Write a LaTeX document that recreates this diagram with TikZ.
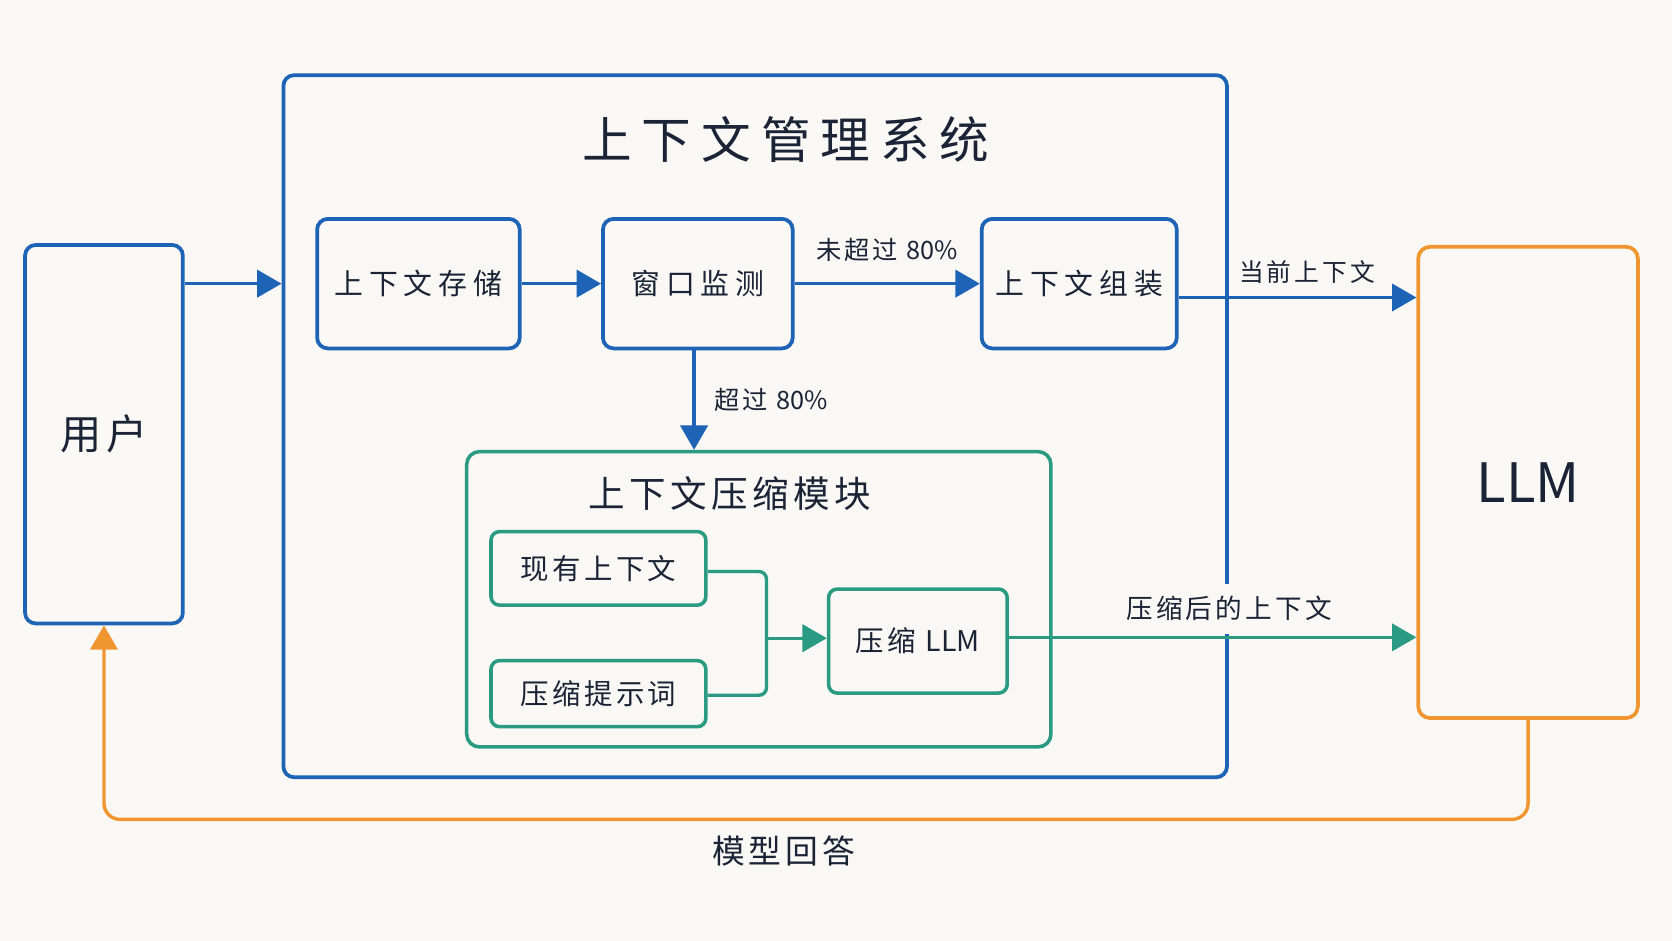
\documentclass[tikz,border=0pt]{standalone}
\usepackage{fontspec}
\setmainfont{Noto Sans CJK SC}
\newfontfamily\fwide[LetterSpace=20]{Noto Sans CJK SC}
\newfontfamily\fmid[LetterSpace=12]{Noto Sans CJK SC}
\newfontfamily\fplain{Noto Sans CJK SC}
\newcommand{\fsz}[1]{\fontsize{#1}{#1}\selectfont}
\usetikzlibrary{arrows.meta,calc}
\definecolor{cblue}{RGB}{30,100,182}
\definecolor{cgreen}{RGB}{42,154,130}
\definecolor{corange}{RGB}{240,150,48}
\definecolor{ctext}{RGB}{26,36,54}
\definecolor{cbg}{RGB}{250,248,245}
\begin{document}
\begin{tikzpicture}[x=0.02cm,y=-0.02cm,
  bbox/.style={draw=cblue,line width=2pt,rounded corners=0.2cm,inner sep=0pt,text=ctext},
  gbox/.style={draw=cgreen,line width=1.9pt,rounded corners=0.16cm,inner sep=0pt,text=ctext},
  obox/.style={draw=corange,line width=2pt,rounded corners=0.22cm,inner sep=0pt,text=ctext},
  barrow/.style={draw=cblue,line width=1.8pt,-{Triangle[length=13pt,width=14.5pt]}},
  garrow/.style={draw=cgreen,line width=1.8pt,-{Triangle[length=13pt,width=14.5pt]}},
  oarrow/.style={draw=corange,line width=1.8pt,-{Triangle[length=13pt,width=14.5pt]}},
  lbl/.style={inner sep=0pt,text=ctext},
]
\fill[cbg] (0,0) rectangle (1568,882);
\useasboundingbox (0,0) rectangle (1568,882);

% boxes
\node[bbox, minimum width=2.96cm, minimum height=7.10cm] (user) at (97.5,407.2) {\fmid\fsz{22}用户};
\node[bbox, minimum width=17.70cm, minimum height=13.17cm] (main) at (708.2,399.7) {};
\node[lbl] (title) at (737,131) {\fwide\fsz{26.5}上下文管理系统};
\node[bbox, minimum width=3.80cm, minimum height=2.43cm] (storage) at (392.4,266) {\fwide\fsz{15.4}上下文存储};
\node[bbox, minimum width=3.56cm, minimum height=2.43cm] (window) at (654.4,266) {\fwide\fsz{15.4}窗口监测};
\node[bbox, minimum width=3.66cm, minimum height=2.43cm] (assembly) at (1012.1,266) {\fwide\fsz{15.4}上下文组装};
\node[obox, minimum width=4.12cm, minimum height=8.84cm] (LLM) at (1433,452.4) {\fplain\fsz{29}LLM};

\node[gbox, rounded corners=0.24cm, minimum width=10.96cm, minimum height=5.54cm] (module) at (711.6,562) {};
\node[lbl] (mtitle) at (684.6,463) {\fmid\fsz{19.5}上下文压缩模块};
\node[gbox, minimum width=4.03cm, minimum height=1.38cm] (existing) at (561.2,533) {\fmid\fsz{15.2}现有上下文};
\node[gbox, minimum width=4.03cm, minimum height=1.24cm] (prompt) at (561.2,650.5) {\fmid\fsz{15.2}压缩提示词};
\node[gbox, minimum width=3.35cm, minimum height=1.95cm] (cllm) at (860.8,601.2) {\fmid\fsz{15.2}压缩 {\fplain LLM}};
\coordinate (j) at (718.8,598.5);
\coordinate (ret) at (97.5,768.4);

% blue connectors
\draw[barrow] (user.east |- storage.west) -- (main.west |- storage.west);
\draw[barrow] (storage.east) -- (window.west);
\draw[barrow] (window.east) -- (assembly.west)
  node[lbl, midway, yshift=0.63cm] (l1) {\fmid\fsz{13.5}未超过 {\fplain 80\%}};
\draw[barrow] ([yshift=-0.26cm]assembly.east) -- ([yshift=-0.26cm]assembly.east -| LLM.west)
  node[lbl, pos=0.54, yshift=0.48cm] (l3) {\fmid\fsz{13.2}当前上下文};
\draw[barrow] ([xshift=-0.07cm]window.south) -- ([xshift=-0.07cm]window.south |- module.north)
  node[lbl, midway, right=0.35cm] (l2) {\fmid\fsz{13.5}超过 {\fplain 80\%}};

% green connectors
\draw[draw=cgreen, line width=1.8pt, rounded corners=0.14cm] ([yshift=-0.06cm]existing.east) -| (j);
\draw[draw=cgreen, line width=1.8pt, rounded corners=0.14cm] ([yshift=-0.03cm]prompt.east) -| (j);
\draw[garrow] (j) -- (j -| cllm.west);
\draw[garrow] ([yshift=0.07cm]cllm.east) -- ([yshift=0.07cm]cllm.east -| LLM.west)
  node[lbl, pos=0.54, anchor=south, fill=cbg, minimum height=0.94cm, yshift=1pt] (l4) {\fmid\fsz{14.2}压缩后的上下文};

% orange return
\draw[oarrow, rounded corners=0.3cm] (LLM.south) |- (ret) -- (user.south);
\node[lbl] (ans) at (735,798) {\fmid\fsz{17.5}模型回答};
\end{tikzpicture}
\end{document}
